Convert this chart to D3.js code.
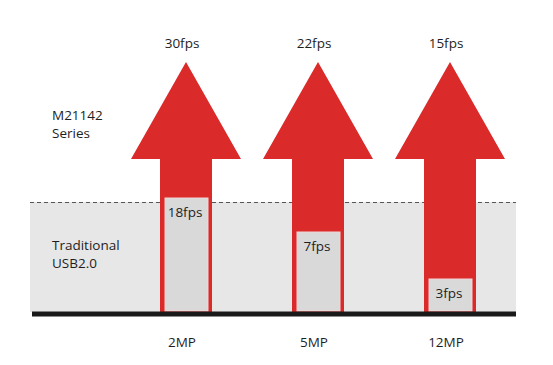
<!DOCTYPE html>
<html>
<head>
<meta charset="utf-8">
<script src="https://cdn.jsdelivr.net/npm/d3@7"></script>
<style>
  html, body { margin: 0; padding: 0; background: #fff; }
  svg { display: block; }
</style>
</head>
<body>
<div id="chart"></div>
<script>
const resolutions = ["2MP", "5MP", "12MP"]
const newFps = [30, 22, 15]
const oldFps = [18, 7, 3]
const seriesNames = [["M21142", "Series"], ["Traditional", "USB2.0"]]

const width = 553
const height = 365
const baseline = 314
const bandLeft = 30
const bandRight = 516
const shaftW = 52
const headW = 110
const headH = 97
const red = "#da2a2a"
const font = "'Open Sans', sans-serif"
const fs = 13.5

const x = d3.scaleBand().domain(resolutions).range([120, 516]).padding(0)
// picture is not drawn to scale: piecewise mapping
const y = d3.scaleLinear()
  .domain([0, 3, 7, 18, 30])
  .range([baseline, 279, 232, 198, 62])
const cx = d => x(d) + x.bandwidth() / 2

const svg = d3.create("svg")
  .attr("width", width)
  .attr("height", height)
  .attr("viewBox", [0, 0, width, height])
  .style("font-family", font)

// legacy zone band
const bandTop = y(d3.max(oldFps)) + 4
svg.append("rect")
  .attr("x", bandLeft)
  .attr("y", bandTop)
  .attr("width", bandRight - bandLeft)
  .attr("height", baseline - 2 - bandTop)
  .attr("fill", "#e7e7e7")

svg.append("line")
  .attr("x1", bandLeft).attr("x2", bandRight)
  .attr("y1", bandTop + 0.5).attr("y2", bandTop + 0.5)
  .attr("stroke", "#555")
  .attr("stroke-width", 1)
  .attr("stroke-dasharray", "4,3")

// arrows
const tip = y(d3.max(newFps))
svg.append("g")
  .selectAll("path")
  .data(resolutions)
  .join("path")
  .attr("fill", red)
  .attr("d", d => {
    const c = cx(d)
    const p = d3.path()
    p.moveTo(c, tip)
    p.lineTo(c + headW / 2, tip + headH)
    p.lineTo(c + shaftW / 2, tip + headH)
    p.lineTo(c + shaftW / 2, baseline)
    p.lineTo(c - shaftW / 2, baseline)
    p.lineTo(c - shaftW / 2, tip + headH)
    p.lineTo(c - headW / 2, tip + headH)
    p.closePath()
    return p.toString()
  })

// old fps boxes inside shaft
const boxes = svg.append("g")
  .selectAll("g")
  .data(resolutions.map((r, i) => ({ r, v: oldFps[i] })))
  .join("g")

boxes.append("rect")
  .attr("x", d => cx(d.r) - shaftW / 2 + 5)
  .attr("y", d => y(d.v))
  .attr("width", shaftW - 9)
  .attr("height", d => baseline - 3 - y(d.v))
  .attr("fill", "#d9d9d9")
  .attr("stroke", "#f2d6d6")
  .attr("stroke-width", 1)

boxes.append("text")
  .attr("x", d => cx(d.r) - 1)
  .attr("y", d => y(d.v) + 19)
  .attr("text-anchor", "middle")
  .attr("font-size", fs)
  .attr("fill", "#1e1e1e")
  .text(d => d.v + "fps")

// baseline
svg.append("line")
  .attr("x1", bandLeft + 2).attr("x2", bandRight)
  .attr("y1", baseline).attr("y2", baseline)
  .attr("stroke", "#1a1a1a")
  .attr("stroke-width", 5)

// top fps labels
svg.append("g")
  .selectAll("text")
  .data(resolutions.map((r, i) => ({ r, v: newFps[i] })))
  .join("text")
  .attr("x", d => cx(d.r) - 4)
  .attr("y", 48)
  .attr("text-anchor", "middle")
  .attr("font-size", fs)
  .attr("fill", "#1e1e1e")
  .text(d => d.v + "fps")

// resolution labels
svg.append("g")
  .selectAll("text")
  .data(resolutions)
  .join("text")
  .attr("x", d => cx(d) - 4)
  .attr("y", 347)
  .attr("text-anchor", "middle")
  .attr("font-size", fs)
  .attr("fill", "#1e1e1e")
  .text(d => d)

// series labels
const seriesY = [120, 250]
seriesNames.forEach((lines, i) => {
  const t = svg.append("text")
    .attr("x", 52)
    .attr("y", seriesY[i])
    .attr("font-size", fs)
    .attr("fill", "#1e1e1e")
  lines.forEach((s, j) => {
    t.append("tspan").attr("x", 52).attr("dy", j ? 18 : 0).text(s)
  })
})

document.getElementById("chart").append(svg.node())
</script>
</body>
</html>
